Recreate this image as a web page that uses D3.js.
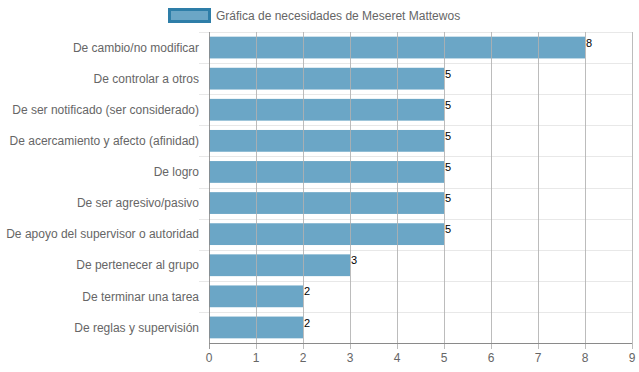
<!DOCTYPE html>
<html>
<head>
<meta charset="utf-8">
<script src="https://cdn.jsdelivr.net/npm/d3@7"></script>
<style>
  body { margin: 0; background: #fff; }
  svg { display: block; font-family: "Liberation Sans", Arial, sans-serif; }
</style>
</head>
<body>
<svg id="chart" width="639" height="372"></svg>
<script>
//Categories and values
var categories = [
  "De cambio/no modificar",
  "De controlar a otros",
  "De ser notificado (ser considerado)",
  "De acercamiento y afecto (afinidad)",
  "De logro",
  "De ser agresivo/pasivo",
  "De apoyo del supervisor o autoridad",
  "De pertenecer al grupo",
  "De terminar una tarea",
  "De reglas y supervisión"
];
var values = [8, 5, 5, 5, 5, 5, 5, 3, 2, 2];
var xTicks = [0, 1, 2, 3, 4, 5, 6, 7, 8, 9];
var seriesName = "Gráfica de necesidades de Meseret Mattewos";

var svg = d3.select("#chart"),
margin = {top: 32, right: 7, bottom: 29, left: 209},
width = +svg.attr("width") - margin.left - margin.right,
height = +svg.attr("height") - margin.top - margin.bottom,
g = svg.append("g").attr("transform", "translate(" + margin.left + "," + margin.top + ")");

var x = d3.scaleLinear().domain([0, 9]).range([0, width]);
var y = d3.scaleBand().domain(categories).range([0, height]).paddingInner(0.3).paddingOuter(0.15);
var band = d3.scaleBand().domain(categories).range([0, height]);

//Horizontal light gridlines (between categories)
var hLines = categories.map(function(c) { return band(c); });
g.append("g").selectAll("line")
  .data(hLines)
  .enter().append("line")
  .attr("x1", -10).attr("x2", width)
  .attr("y1", function(d) { return Math.round(d) + 0.5; })
  .attr("y2", function(d) { return Math.round(d) + 0.5; })
  .attr("stroke", "#e8e8e8");

//Bars
g.append("g").selectAll("rect")
  .data(values)
  .enter().append("rect")
  .attr("x", x(0))
  .attr("y", function(d, i) { return y(categories[i]); })
  .attr("width", function(d) { return x(d) - x(0); })
  .attr("height", y.bandwidth())
  .attr("fill", "#6ba6c6");

//Vertical gridlines drawn on top of bars
g.append("g").selectAll("line")
  .data(xTicks)
  .enter().append("line")
  .attr("x1", function(d) { return Math.round(x(d)) + 0.5; })
  .attr("x2", function(d) { return Math.round(x(d)) + 0.5; })
  .attr("y1", 0).attr("y2", height + 6)
  .attr("stroke", function(d) { return d === 0 ? "#8a8a8a" : "#b0b0b0"; })
  .attr("stroke-opacity", 0.85);

//X axis line
g.append("line")
  .attr("x1", 0).attr("x2", width)
  .attr("y1", height + 0.5).attr("y2", height + 0.5)
  .attr("stroke", "#8a8a8a");

//X tick labels
g.append("g").selectAll("text")
  .data(xTicks)
  .enter().append("text")
  .attr("x", function(d) { return x(d); })
  .attr("y", height + 19)
  .attr("text-anchor", "middle")
  .attr("font-size", 12)
  .attr("fill", "#666")
  .text(function(d) { return d; });

//Y category labels
g.append("g").selectAll("text")
  .data(categories)
  .enter().append("text")
  .attr("x", -10)
  .attr("y", function(d) { return band(d) + band.bandwidth() / 2; })
  .attr("dy", "0.35em")
  .attr("text-anchor", "end")
  .attr("font-size", 12)
  .attr("fill", "#666")
  .text(function(d) { return d; });

//Value labels at bar ends
g.append("g").selectAll("text")
  .data(values)
  .enter().append("text")
  .attr("x", function(d) { return x(d) + 1; })
  .attr("y", function(d, i) { return y(categories[i]) + 10; })
  .attr("font-size", 11)
  .attr("fill", "#000")
  .text(function(d) { return d; });

//Legend
var legend = svg.append("g").attr("transform", "translate(168,8)");
legend.append("rect")
  .attr("x", 1.5).attr("y", 1.5)
  .attr("width", 40).attr("height", 12)
  .attr("fill", "#6ba6c6")
  .attr("stroke", "#2e7ea8")
  .attr("stroke-width", 3);
legend.append("text")
  .attr("x", 48).attr("y", 7.5)
  .attr("dy", "0.35em")
  .attr("font-size", 12)
  .attr("fill", "#666")
  .text(seriesName);
</script>
</body>
</html>
